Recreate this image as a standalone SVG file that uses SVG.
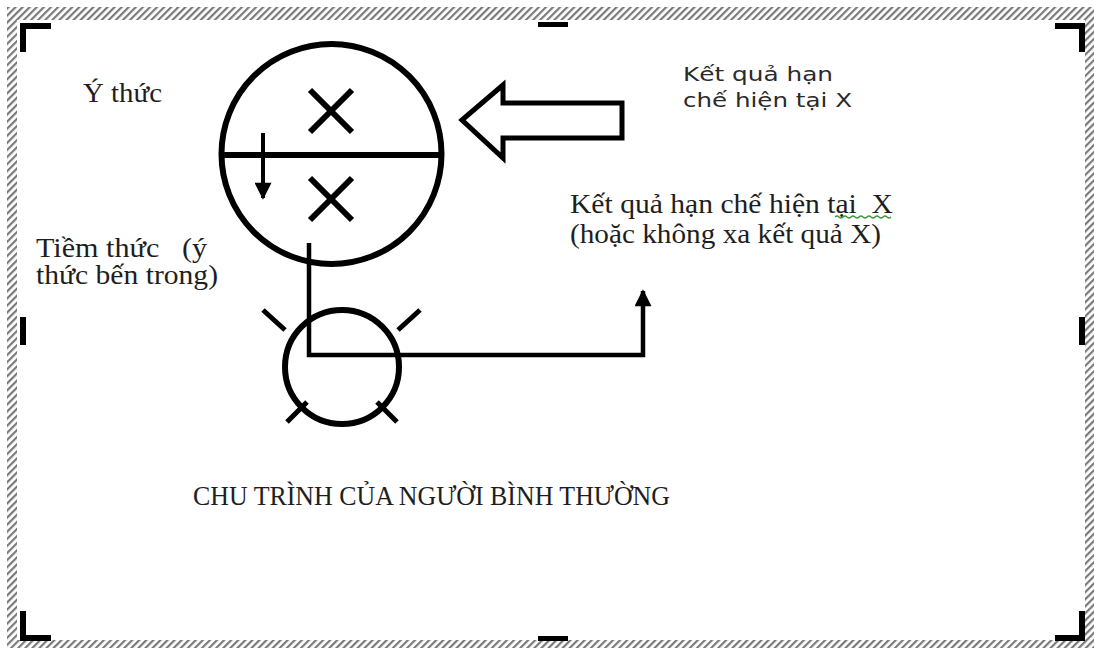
<svg xmlns="http://www.w3.org/2000/svg" width="1094" height="648" viewBox="0 0 1094 648">
<defs>
<pattern id="hatch" patternUnits="userSpaceOnUse" width="5" height="5" patternTransform="rotate(45)">
<rect width="5" height="5" fill="#ffffff"/>
<rect width="2.2" height="5" fill="#7a7a7a"/>
</pattern>
<marker id="ah" viewBox="0 0 10 10" refX="9" refY="5" markerWidth="18" markerHeight="17" markerUnits="userSpaceOnUse" orient="auto">
<path d="M0,0 L10,5 L0,10 z" fill="#000"/>
</marker>
<marker id="ah2" viewBox="0 0 10 10" refX="9" refY="5" markerWidth="20" markerHeight="17" markerUnits="userSpaceOnUse" orient="auto">
<path d="M0,0 L10,5 L0,10 z" fill="#000"/>
</marker>
</defs>
<style>
.ln{fill:none;stroke:#000;stroke-width:6}
.ln4{fill:none;stroke:#000;stroke-width:5}
.mk{fill:#000}
.serif{font-family:"Liberation Serif","Times New Roman",serif;fill:#1e1e1e}
.sans{font-family:"DejaVu Sans","Liberation Sans",sans-serif;fill:#2a2a2a}
</style>
<rect x="0" y="0" width="1094" height="648" fill="#ffffff"/>
<g id="frame">
<rect x="7" y="7" width="1087" height="641" fill="url(#hatch)"/>
<rect x="17" y="20" width="1068" height="620" fill="#ffffff"/>
<path class="mk" d="M20,23 H51 V29 H26 V52 H20 Z"/>
<path class="mk" d="M1055,23 H1085 V52 H1079 V29 H1055 Z"/>
<path class="mk" d="M20,611 H26 V635 H51 V641 H20 Z"/>
<path class="mk" d="M1079,611 H1085 V641 H1055 V635 H1079 Z"/>
<rect class="mk" x="538" y="22" width="30" height="5"/>
<rect class="mk" x="538" y="636" width="30" height="5"/>
<rect class="mk" x="20" y="317" width="6" height="28"/>
<rect class="mk" x="1079" y="317" width="6" height="28"/>
</g>
<g id="node-mind">
<circle class="ln" cx="331.5" cy="154" r="110"/>
<line class="ln" x1="221" y1="155" x2="442" y2="155"/>
<path class="ln" d="M310,90 L352,132 M352,90 L310,132"/>
<path class="ln" d="M310,178 L352,220 M352,178 L310,220"/>
</g>
<g id="node-sun">
<circle class="ln" cx="342" cy="367" r="57"/>
<path class="ln4" d="M263,310 L285,330 M398,330 L420,310 M287,422 L307,402 M377,402 L397,422"/>
</g>
<g id="node-block-arrow">
<polygon points="462,120 503,85 503,103 622,103 622,138 503,138 503,158" fill="#ffffff" stroke="#000" stroke-width="5" stroke-linejoin="miter"/>
</g>
<g id="connectors">
<line x1="263" y1="133" x2="263" y2="198" stroke="#000" stroke-width="4" marker-end="url(#ah)"/>
<polyline points="309,243 309,355 643,355 643,291" fill="none" stroke="#000" stroke-width="4.5" marker-end="url(#ah2)"/>
</g>
<g id="labels">
<text class="serif" x="83" y="102" font-size="28" textLength="79" lengthAdjust="spacingAndGlyphs">Ý thức</text>
<text class="serif" x="36" y="257" font-size="27" textLength="171" lengthAdjust="spacingAndGlyphs" xml:space="preserve">Tiềm thức   (ý</text>
<text class="serif" x="36" y="284" font-size="27" textLength="182" lengthAdjust="spacingAndGlyphs">thức bến trong)</text>
<text class="sans" x="683" y="81" font-size="19" textLength="150" lengthAdjust="spacingAndGlyphs">Kết quả hạn</text>
<text class="sans" x="683" y="107" font-size="19" textLength="169" lengthAdjust="spacingAndGlyphs">chế hiện tại X</text>
<text class="serif" x="570" y="213" font-size="28" textLength="323" lengthAdjust="spacingAndGlyphs" xml:space="preserve">Kết quả hạn chế hiện tại  X</text>
<path d="M835,217 q2,-2 4,0 t4,0 t4,0 t4,0 t4,0 t4,0 t4,0 t4,0 t4,0 t4,0 t4,0 t4,0 t4,0 t4,0" fill="none" stroke="#3a9a3a" stroke-width="1.2"/>
<text class="serif" x="570" y="243" font-size="28" textLength="311" lengthAdjust="spacingAndGlyphs">(hoặc không xa kết quả X)</text>
<text class="serif" x="193" y="505" font-size="27" textLength="477" lengthAdjust="spacingAndGlyphs">CHU TRÌNH CỦA NGƯỜI BÌNH THƯỜNG</text>
</g>
</svg>
